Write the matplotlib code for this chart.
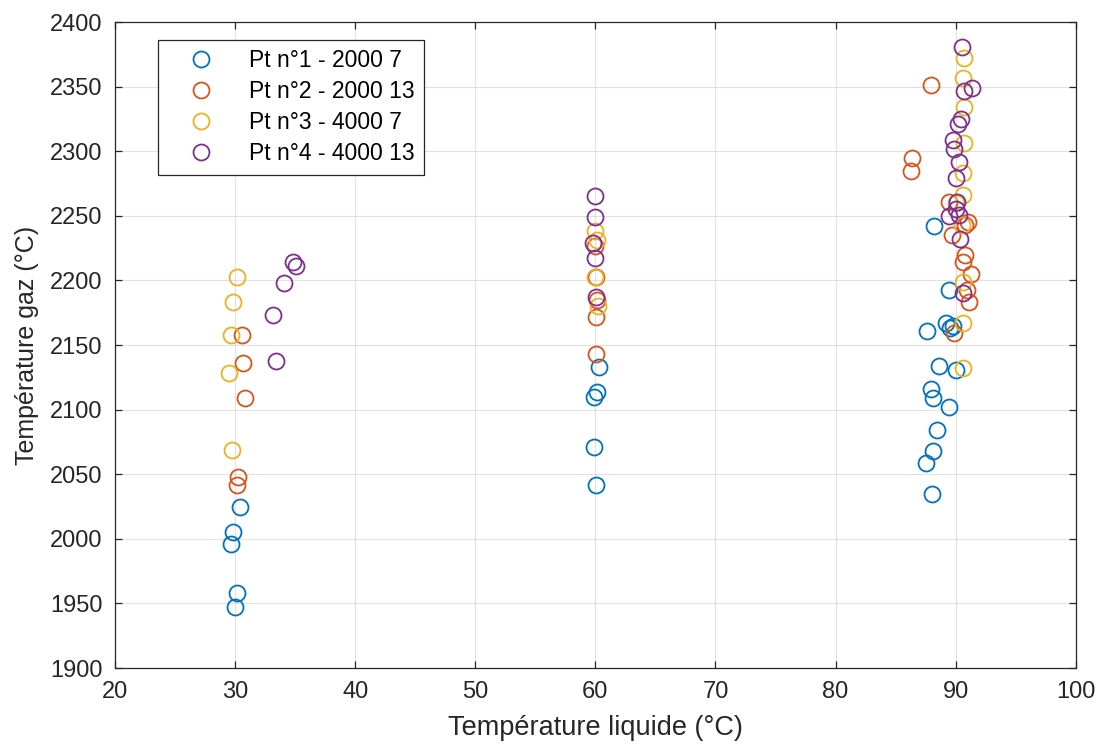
import numpy as np
import matplotlib.pyplot as plt

plt.rcParams['font.family'] = ['Liberation Sans', 'DejaVu Sans']

labels = ['Pt n°1 - 2000 7', 'Pt n°2 - 2000 13', 'Pt n°3 - 4000 7', 'Pt n°4 - 4000 13']
colors = ['#0072BD', '#D95319', '#EDB120', '#7E2F8E']

# Pt 1 - 2000 7
x1 = [29.99, 30.16, 29.83, 29.66, 30.41,
      60.30, 60.13, 59.88, 59.88, 60.05,
      88.19, 89.44, 89.19, 87.61, 89.53, 89.78, 88.61, 90.02,
      87.94, 88.11, 89.44, 88.44, 88.11, 87.53, 88.03]
y1 = [1947, 1958, 2005, 1996, 2025,
      2133, 2114, 2110, 2071, 2042,
      2242, 2193, 2167, 2161, 2163, 2165, 2134, 2131,
      2116, 2109, 2102, 2084, 2068, 2059, 2035]

# Pt 2 - 2000 13
x2 = [30.25, 30.16, 30.79, 30.70, 30.58,
      59.97, 60.05, 60.13, 60.05, 60.05,
      87.94, 86.36, 86.28, 89.45, 91.00, 90.80, 89.70,
      90.80, 90.60, 91.30, 90.90, 91.10, 89.90]
y2 = [2048, 2042, 2109, 2136, 2158,
      2227, 2203, 2185, 2172, 2143,
      2351, 2295, 2285, 2261, 2245, 2243, 2235,
      2220, 2214, 2205, 2193, 2183, 2159]

# Pt 3 - 4000 7
x3 = [30.16, 29.83, 29.66, 29.50, 29.75,
      59.97, 60.13, 59.97, 60.25,
      90.69, 90.61, 90.69, 90.69, 90.61, 90.61, 90.02,
      90.53, 90.61, 90.61, 90.61]
y3 = [2203, 2183, 2158, 2128, 2069,
      2238, 2231, 2203, 2180,
      2372, 2357, 2334, 2306, 2283, 2266, 2260,
      2243, 2199, 2167, 2132]

# Pt 4 - 4000 13
x4 = [34.82, 35.07, 34.07, 33.15, 33.40,
      59.97, 59.97, 59.80, 59.97, 60.05,
      90.53, 91.36, 90.69, 90.44, 90.19, 89.78, 89.86, 90.28,
      90.02, 90.11, 90.02, 89.44, 90.28, 90.36, 90.61]
y4 = [2214, 2211, 2198, 2173, 2138,
      2265, 2249, 2229, 2217, 2187,
      2381, 2349, 2347, 2325, 2321, 2309, 2302, 2292,
      2279, 2261, 2255, 2250, 2251, 2232, 2190]

xs = [x1, x2, x3, x4]
ys = [y1, y2, y3, y4]

fig = plt.figure(figsize=(11, 7.49), dpi=100)
ax = fig.add_axes([0.1045, 0.108, 0.8735, 0.8626])

for x, y, c, lab in zip(xs, ys, colors, labels):
    ax.plot(x, y, 'o', mfc='none', mec=c, ms=11.5, mew=1.3, label=lab)

ax.set_xlim(20, 100)
ax.set_ylim(1900, 2400)
ax.set_xticks(np.arange(20, 101, 10))
ax.set_yticks(np.arange(1900, 2401, 50))
ax.grid(True, color='#262626', alpha=0.13, lw=0.8)
ax.set_axisbelow(True)
for s in ax.spines.values():
    s.set_color('#262626')
    s.set_linewidth(0.9)
ax.tick_params(direction='in', top=True, right=True, labelsize=17,
               colors='#262626', length=5, width=0.9)
ax.tick_params(axis='x', pad=9)
ax.tick_params(axis='y', pad=9)
ax.set_xlabel('Température liquide (°C)', fontsize=19.5, color='#262626', labelpad=9)
ax.set_ylabel('Température gaz (°C)', fontsize=18, color='#262626', labelpad=8)

leg = ax.legend(loc='upper left', bbox_to_anchor=(0.0447, 0.972), borderaxespad=0,
                fontsize=16.5, fancybox=False, edgecolor='#262626', framealpha=1,
                handletextpad=0.58, borderpad=0.4, labelspacing=0.35,
                handlelength=3.0)
leg.get_frame().set_linewidth(0.9)

fig.savefig('out.png', dpi=100)
